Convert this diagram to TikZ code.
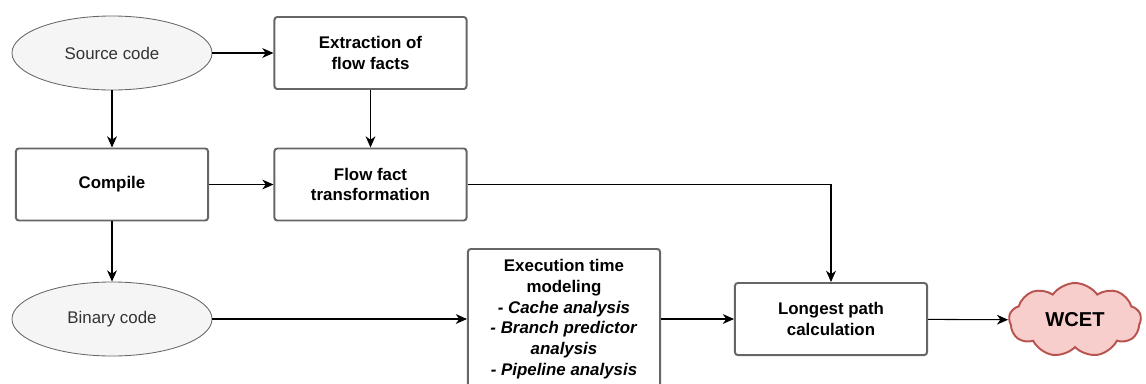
\documentclass[tikz,border=0pt]{standalone}
\usepackage{fontspec}
\setmainfont{Liberation Sans}
\usetikzlibrary{shapes.geometric,shapes.symbols,arrows.meta}
\definecolor{boxline}{HTML}{666666}
\definecolor{ovalfill}{HTML}{F5F5F5}
\definecolor{ovaltext}{HTML}{333333}
\definecolor{wcetfill}{HTML}{F8CECC}
\definecolor{wcetline}{HTML}{B85450}
\begin{document}
\begin{tikzpicture}[x=0.025cm, y=-0.025cm,
    font=\fontsize{12}{14.7}\selectfont,
    box/.style = {draw=boxline, line width=1.4pt, rounded corners=2pt, minimum width=4.8cm, minimum height=1.8cm, align=center, font=\fontsize{12}{14.7}\selectfont\bfseries},
    oval/.style = {draw=boxline, fill=ovalfill, ellipse, line width=0.6pt, minimum width=5cm, minimum height=1.85cm, text=ovaltext},
    conn/.style = {-{Stealth[length=8pt, width=7pt, inset=2.5pt]}, line width=0.75pt}]
    \useasboundingbox (0,0) rectangle (1146,383);
    \node[oval] (src) at (112,53) {Source code};
    \node[box] (extr) at (370.5,53) {Extraction of\\flow facts};
    \node[box] (comp) at (112,184.5) {Compile};
    \node[box] (trans) at (370.5,184.5) {Flow fact\\transformation};
    \node[oval] (bin) at (112,319) {Binary code};
    \node[box, minimum height=3.5cm] (exec) at (564,319) {Execution time\\modeling\\\textit{- Cache analysis}\\\textit{- Branch predictor}\\\textit{analysis}\\\textit{- Pipeline analysis}};
    \node[box] (path) at (831,319) {Longest path\\calculation};
    \node[cloud, cloud puffs=9, cloud puff arc=110, aspect=1.8, draw=wcetline, fill=wcetfill, line width=1.4pt, minimum width=3.3cm, minimum height=1.85cm, font=\fontsize{14.3}{17}\selectfont\bfseries] (wcet) at (1075,320) {WCET};
    \draw[conn] (src) -- (extr);
    \draw[conn] (src) -- (comp);
    \draw[conn] (extr) -- (trans);
    \draw[conn] (comp) -- (trans);
    \draw[conn] (comp) -- (bin);
    \draw[conn] (bin) -- (exec);
    \draw[conn] (trans) -| (path);
    \draw[conn] (exec) -- (path);
    \draw[conn] (path) -- (wcet);
\end{tikzpicture}
\end{document}
